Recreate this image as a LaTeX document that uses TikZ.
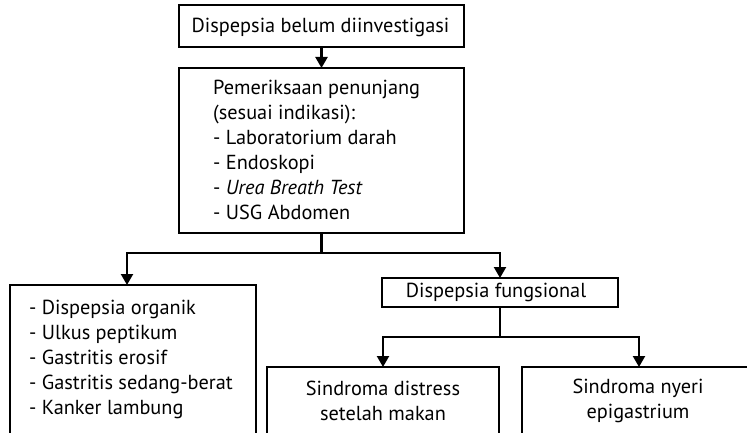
\documentclass[tikz,border=0pt]{standalone}
\usepackage{fontspec}
\setmainfont{PT Sans}
\usetikzlibrary{arrows.meta}
\begin{document}
\begin{tikzpicture}[x=1pt,y=-1pt,
  box/.style={draw, line width=2.2pt, inner sep=0pt, outer sep=0pt, anchor=north west},
  txt/.style={inner sep=0pt, font=\fontsize{20.3}{25}\selectfont},
  con/.style={line width=2.2pt, line join=miter},
  arr/.style={con, -{Triangle[width=12pt,length=11pt]}}]
\useasboundingbox (0,0) rectangle (747,433);
\clip (0,0) rectangle (747,433);
% boxes
\node[box, minimum width=285pt, minimum height=42pt] (top) at (179,5) {};
\node[box, minimum width=285pt, minimum height=165pt] (b2) at (179,68) {};
\node[box, minimum width=246pt, minimum height=151pt] (lb) at (10,285) {};
\node[box, minimum width=236pt, minimum height=29pt] (fung) at (382,278) {};
\node[box, minimum width=232pt, minimum height=69pt] (sd) at (267,367) {};
\node[box, minimum width=235pt, minimum height=69pt] (sn) at (522,367) {};
% texts
\node[txt] (topt) at (320.5,27) {Dispepsia belum diinvestigasi};
\node[txt, anchor=west, align=left] (b2t) at (213,150) {Pemeriksaan penunjang\\(sesuai indikasi):\\- Laboratorium darah\\- Endoskopi\\- \textit{Urea Breath Test}\\- USG Abdomen};
\node[txt, anchor=west, align=left] (lbt) at (29,359) {- Dispepsia organik\\- Ulkus peptikum\\- Gastritis erosif\\- Gastritis sedang-berat\\- Kanker lambung};
\node[txt] (fungt) at (496,292.5) {Dispepsia fungsional};
\node[txt, align=center] (sdt) at (383,401) {Sindroma distress\\setelah makan};
\node[txt, align=center] (snt) at (638,401) {Sindroma nyeri\\epigastrium};
% connector points
\coordinate (j1) at (321.5,253);
\coordinate (lbin) at (127,285);
\coordinate (fin) at (500,278);
\coordinate (j2) at (500,337);
\coordinate (sdin) at (383,367);
\coordinate (snin) at (639,367);
% connectors
\draw[arr] (top.south) -- (b2.north);
\draw[con] (b2.south) -- (j1);
\draw[arr] (j1) -| (lbin);
\draw[arr] (j1) -| (fin);
\draw[con] (fung.south -| j2) -- (j2);
\draw[arr] (j2) -| (sdin);
\draw[arr] (j2) -| (snin);
\end{tikzpicture}
\end{document}
